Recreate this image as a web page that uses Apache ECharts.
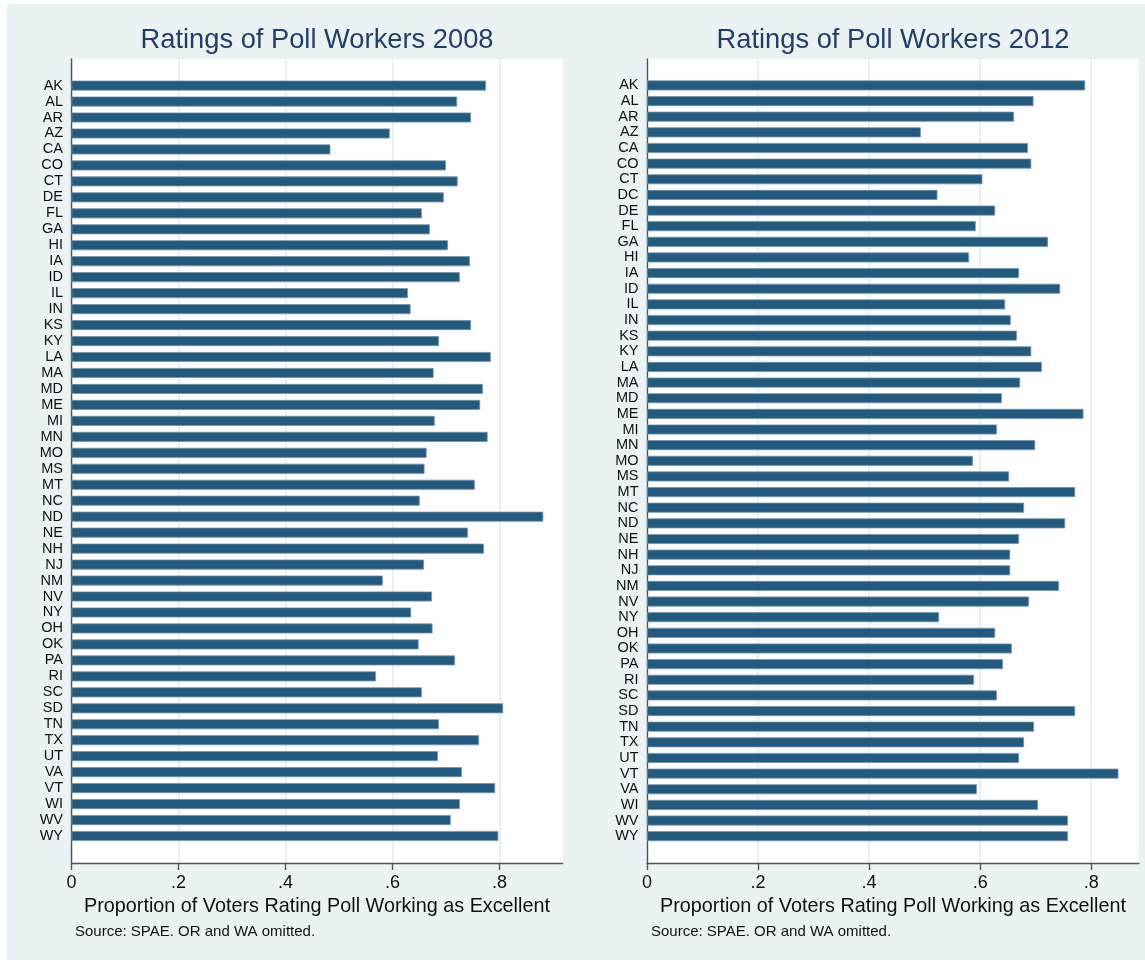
<!DOCTYPE html>
<html>
<head>
<meta charset="utf-8">
<script src="https://cdn.jsdelivr.net/npm/echarts@6/dist/echarts.min.js"></script>
<style>
  html, body { margin: 0; padding: 0; background: #ffffff; }
  #bg { position: absolute; left: 7px; top: 4px; width: 1138px; height: 956px; background: #EAF2F3; }
  #chart { position: absolute; left: 0; top: 0; width: 1145px; height: 960px; }
</style>
</head>
<body>
<div id="bg"></div>
<div id="chart"></div>
<script>
const states2008 = ['AK','AL','AR','AZ','CA','CO','CT','DE','FL','GA','HI','IA','ID','IL','IN','KS','KY','LA','MA','MD','ME','MI','MN','MO','MS','MT','NC','ND','NE','NH','NJ','NM','NV','NY','OH','OK','PA','RI','SC','SD','TN','TX','UT','VA','VT','WI','WV','WY'];
const values2008 = [0.775,0.721,0.747,0.595,0.484,0.700,0.722,0.696,0.655,0.670,0.704,0.745,0.726,0.629,0.634,0.747,0.687,0.784,0.677,0.769,0.764,0.679,0.778,0.664,0.660,0.754,0.651,0.882,0.741,0.771,0.659,0.582,0.674,0.635,0.675,0.649,0.717,0.569,0.655,0.807,0.687,0.762,0.685,0.730,0.792,0.726,0.709,0.798];

const states2012 = ['AK','AL','AR','AZ','CA','CO','CT','DC','DE','FL','GA','HI','IA','ID','IL','IN','KS','KY','LA','MA','MD','ME','MI','MN','MO','MS','MT','NC','ND','NE','NH','NJ','NM','NV','NY','OH','OK','PA','RI','SC','SD','TN','TX','UT','VT','VA','WI','WV','WY'];
const values2012 = [0.789,0.696,0.661,0.493,0.686,0.692,0.604,0.523,0.627,0.592,0.722,0.580,0.670,0.744,0.645,0.655,0.666,0.692,0.711,0.672,0.639,0.786,0.630,0.699,0.587,0.652,0.771,0.679,0.753,0.670,0.654,0.654,0.742,0.688,0.526,0.627,0.657,0.641,0.589,0.630,0.771,0.697,0.679,0.670,0.849,0.594,0.704,0.758,0.758];

const xTicks = [0, 0.2, 0.4, 0.6, 0.8];
const xTickLabels = ['0', '.2', '.4', '.6', '.8'];

const titles = ['Ratings of Poll Workers 2008', 'Ratings of Poll Workers 2012'];
const xAxisTitle = 'Proportion of Voters Rating Poll Working as Excellent';
const sourceNote = 'Source: SPAE. OR and WA omitted.';

const FONT = '"Liberation Sans", Arial, Helvetica, sans-serif';
const BAR = '#235A80';
const AXIS = '#555555';
const GRIDC = '#E0EBEE';

function tickLabel(v) {
  const i = xTicks.findIndex(t => Math.abs(t - v) < 1e-6);
  return i >= 0 ? xTickLabels[i] : '';
}

const panels = [
  { left: 71.5, width: 491, max: 0.918, cats: states2008, vals: values2008, title: titles[0], srcLeft: 75 },
  { left: 647, width: 492, max: 0.886, cats: states2012, vals: values2012, title: titles[1], srcLeft: 651 }
];

const grid = [], xAxis = [], yAxis = [], series = [], title = [];
panels.forEach((p, k) => {
  grid.push({ left: p.left, width: p.width, top: 59, height: 804, show: true, backgroundColor: '#ffffff', borderWidth: 0 });
  grid.push({ left: p.left, width: p.width, top: 77.6, height: 766.4 });
  const fg = 2 * k, bg = 2 * k + 1;
  xAxis.push({
    gridIndex: fg, type: 'value', min: 0, max: p.max, interval: 0.2,
    axisLine: { show: true, lineStyle: { color: AXIS, width: 1.4 } },
    axisTick: { show: true, length: 7, lineStyle: { color: AXIS, width: 1.4 }, customValues: xTicks },
    axisLabel: { show: true, fontFamily: FONT, fontSize: 18, color: '#111', margin: 11, formatter: tickLabel, customValues: xTicks },
    splitLine: { show: true, lineStyle: { color: GRIDC, width: 1.5 } },
    name: xAxisTitle, nameLocation: 'middle', nameGap: 34,
    nameTextStyle: { fontFamily: FONT, fontSize: 19.8, color: '#111' }
  });
  xAxis.push({ gridIndex: bg, type: 'value', min: 0, max: p.max, show: false });
  yAxis.push({
    gridIndex: fg, type: 'value', min: 0, max: 1,
    axisLine: { show: true, lineStyle: { color: AXIS, width: 1.4 } },
    axisTick: { show: false }, axisLabel: { show: false }, splitLine: { show: false }
  });
  yAxis.push({
    gridIndex: bg, type: 'category', inverse: true, data: p.cats,
    axisLine: { show: false }, axisTick: { show: false }, splitLine: { show: false },
    axisLabel: { fontFamily: FONT, fontSize: 14.5, color: '#111', margin: 8.5, interval: 0 }
  });
  series.push({
    type: 'bar', xAxisIndex: bg, yAxisIndex: bg, data: p.vals,
    barWidth: 10, itemStyle: { color: BAR, borderColor: '#7393AD', borderWidth: 0.8 },
    silent: true, animation: false
  });
  title.push({
    text: p.title, left: p.left + p.width / 2, top: 27, textAlign: 'center', padding: 0,
    textStyle: { fontFamily: FONT, fontSize: 27.3, fontWeight: 'normal', color: '#253E66' }
  });
  title.push({
    text: sourceNote, left: p.srcLeft, top: 924, padding: 0,
    textStyle: { fontFamily: FONT, fontSize: 15, fontWeight: 'normal', color: '#111' }
  });
});

const chart = echarts.init(document.getElementById('chart'), null, { renderer: 'canvas' });
chart.setOption({
  backgroundColor: 'transparent',
  animation: false,
  title, grid, xAxis, yAxis, series
});
</script>
</body>
</html>
